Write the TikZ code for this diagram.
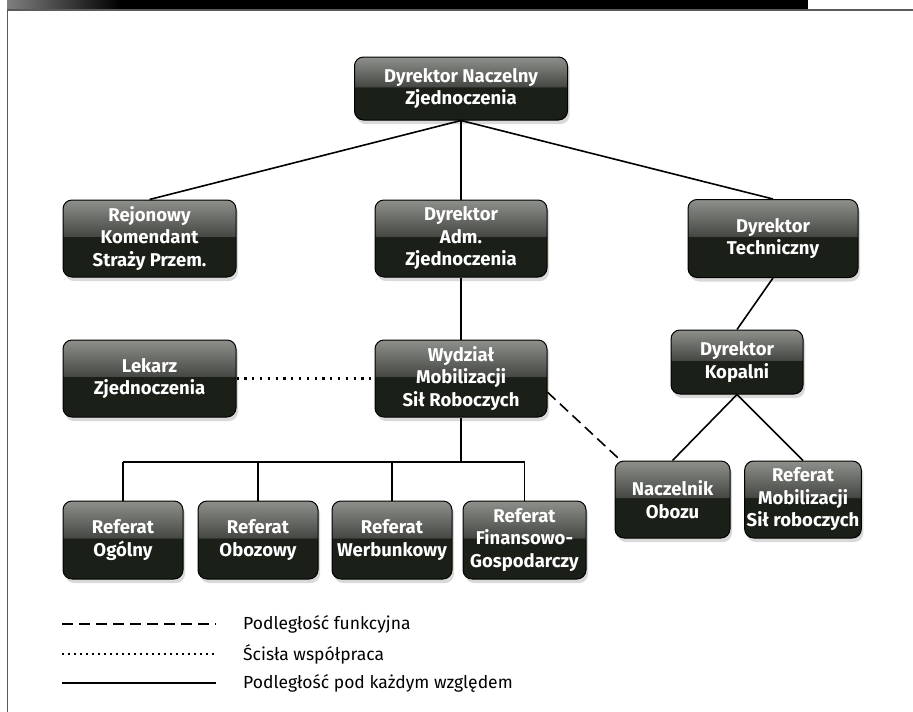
\documentclass[tikz,border=0pt]{standalone}
\usepackage{fontspec}
\setmainfont{Fira Sans}
\usepackage{tikz}
\usetikzlibrary{shadows}
\definecolor{orgDark}{HTML}{1A1F17}
\definecolor{orgMid}{HTML}{464844}
\definecolor{orgLight}{HTML}{8E908B}
\definecolor{orgFrame}{HTML}{5A5A5A}
\pgfdeclareverticalshading{orgglass}{100bp}{color(0bp)=(orgDark); color(25bp)=(orgDark);
  color(51bp)=(orgDark); color(51.5bp)=(orgMid); color(75bp)=(orgLight); color(100bp)=(orgLight)}
\tikzset{
  org chart/.style={x=1pt, y=-1pt},
  org box/.style={rectangle, rounded corners=9pt, draw=black, line width=1pt,
    shading=orgglass, text=white, align=center, inner sep=2pt,
    font=\bfseries\fontsize{18.5}{22.5}\selectfont,
    drop shadow={opacity=0.3, shadow xshift=2pt, shadow yshift=-4pt}},
  org line/.style={draw=black, line width=1.6pt},
  org dashed/.style={org line, dash pattern=on 11pt off 6pt},
  org dotted/.style={org line, line width=2.2pt, dash pattern=on 2.2pt off 5.6pt},
  org frame/.style={draw=orgFrame, line width=1.4pt},
  org legend/.style={font=\fontsize{17.5}{20}\selectfont, anchor=west, inner sep=0pt}
}
\begin{document}
\begin{tikzpicture}[org chart]
\useasboundingbox (0,0) rectangle (913,712);
% frame
\fill[black] (7,0) rectangle (808,10);
\shade[left color=black!50, right color=black] (7,0) rectangle (120,10);
\draw[org frame] (7,10) -- (913,10);
\draw[org frame, line width=1pt] (7.5,10) -- (7.5,712);
% boxes
\node[org box, minimum width=213pt, minimum height=63pt] (naczelny) at (461,88.5) {Dyrektor Naczelny\\Zjednoczenia};
\node[org box, minimum width=173pt, minimum height=77pt] (rejonowy) at (149.5,238.5) {Rejonowy\\Komendant\\Straży Przem.};
\node[org box, minimum width=172pt, minimum height=77pt] (adm) at (461,238.5) {Dyrektor\\Adm.\\Zjednoczenia};
\node[org box, minimum width=170pt, minimum height=78pt] (techniczny) at (773,238.5) {Dyrektor\\Techniczny};
\node[org box, minimum width=173pt, minimum height=77pt] (lekarz) at (149.5,378.5) {Lekarz\\Zjednoczenia};
\node[org box, minimum width=172pt, minimum height=77pt] (wydzial) at (461,378.5) {Wydział\\Mobilizacji\\Sił Roboczych};
\node[org box, minimum width=132pt, minimum height=64pt] (kopalni) at (737,362) {Dyrektor\\Kopalni};
\node[org box, minimum width=115pt, minimum height=77pt] (naczelnik) at (672.5,499.5) {Naczelnik\\Obozu};
\node[org box, minimum width=114pt, minimum height=77pt] (refmob) at (803,499.5) {Referat\\Mobilizacji\\Sił roboczych};
\foreach \x/\w/\name/\label in {123/120/ogolny/{Referat\\Ogólny}, 258/120/obozowy/{Referat\\Obozowy},
    392/120/werbunkowy/{Referat\\Werbunkowy}, 524.5/123/finans/{Referat\\Finansowo-\\Gospodarczy}}
  \node[org box, minimum width=\w pt, minimum height=78pt] (\name) at (\x,540) {\label};
% connectors
\draw[org line] (naczelny.south) -- (rejonowy.north);
\draw[org line] (naczelny.south) -- (adm.north);
\draw[org line] (naczelny.south) -- (techniczny.north);
\draw[org line] (adm.south) -- (wydzial.north);
\draw[org line] (techniczny.south) -- (kopalni.north);
\draw[org line] (kopalni.south) -- (naczelnik.north);
\draw[org line] (kopalni.south) -- (refmob.north);
\draw[org dotted] (lekarz.east) -- (wydzial.west);
\draw[org dashed] (wydzial.-9) -- (naczelnik.143);
\coordinate (bus) at (461,462);
\draw[org line] (wydzial.south) -- (bus);
\draw[org line] (bus -| ogolny.north) -- (bus -| finans.north);
\foreach \name in {ogolny,obozowy,werbunkowy,finans}
  \draw[org line] (bus -| \name.north) -- (\name.north);
% legend
\draw[org dashed] (62,624) -- (216,624);
\node[org legend] (key1) at (243,624) {Podległość funkcyjna};
\draw[org dotted, line width=1.6pt, dash pattern=on 1.6pt off 4.4pt] (62,654) -- (216,654);
\node[org legend] (key2) at (243,654) {Ścisła współpraca};
\draw[org line] (62,683) -- (216,683);
\node[org legend] (key3) at (243,683) {Podległość pod każdym względem};
\end{tikzpicture}
\end{document}
